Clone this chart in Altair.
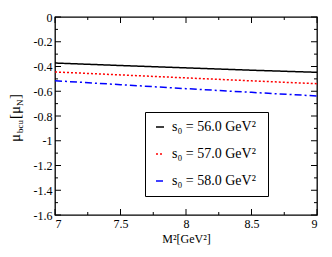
import altair as alt
import pandas as pd

# ---- data ----
m2 = [7.0, 7.5, 8.0, 8.5, 9.0]
s56 = [-0.372, -0.392, -0.411, -0.430, -0.447]
s57 = [-0.444, -0.468, -0.492, -0.516, -0.539]
s58 = [-0.515, -0.547, -0.579, -0.609, -0.638]
series_labels = ["s₀ = 56.0  GeV²", "s₀ = 57.0 GeV²", "s₀ = 58.0 GeV²"]
x_major = [7, 7.5, 8, 8.5, 9]
x_minor = [7.25, 7.75, 8.25, 8.75]
y_major = [0, -0.2, -0.4, -0.6, -0.8, -1, -1.2, -1.4, -1.6]
y_minor = [-0.1, -0.3, -0.5, -0.7, -0.9, -1.1, -1.3, -1.5]

colors = ["#000000", "#ff0000", "#0000ff"]
dashes = [[1, 0], [2, 2], [7, 3, 2, 3]]

W, H = 262, 198
FONT = "Liberation Serif"

rows = []
for lab, vals in zip(series_labels, [s56, s57, s58]):
    for x, y in zip(m2, vals):
        rows.append({"M2": x, "mu": y, "series": lab})
df = pd.DataFrame(rows)

xscale = alt.Scale(domain=[7, 9], nice=False, zero=False)
yscale = alt.Scale(domain=[-1.6, 0], nice=False, zero=False)

xaxis = alt.Axis(values=x_major, ticks=False, domain=False, grid=False,
                 labelExpr="datum.value + ''", labelFont=FONT, labelFontSize=12,
                 labelColor="black", labelPadding=3,
                 title="M²[GeV²]", titleFont=FONT, titleFontSize=12,
                 titleFontWeight="normal", titleColor="black", titlePadding=4)
yaxis = alt.Axis(values=y_major, ticks=False, domain=False, grid=False,
                 labelExpr="datum.value + ''", labelFont=FONT, labelFontSize=12,
                 labelColor="black", labelPadding=3, title=None)

lines = alt.Chart(df).mark_line(strokeWidth=1.5).encode(
    x=alt.X("M2:Q", scale=xscale, axis=xaxis),
    y=alt.Y("mu:Q", scale=yscale, axis=yaxis),
    color=alt.Color("series:N", scale=alt.Scale(domain=series_labels, range=colors),
                    legend=alt.Legend(title=None, orient="none", legendX=90, legendY=95,
                                      strokeColor="black", padding=8, fillColor="white",
                                      symbolType="stroke", symbolSize=64,
                                      symbolStrokeWidth=1.5, labelFont=FONT,
                                      labelFontSize=14, labelColor="black",
                                      labelOffset=5, rowPadding=13)),
    strokeDash=alt.StrokeDash("series:N",
                              scale=alt.Scale(domain=series_labels, range=dashes)),
)

def ticks_y(vals, L):
    d = pd.DataFrame({"mu": vals})
    left = alt.Chart(d).mark_rule(color="black", strokeWidth=1).encode(
        y=alt.Y("mu:Q", scale=yscale, axis=yaxis), x=alt.value(0), x2=alt.value(L))
    right = alt.Chart(d).mark_rule(color="black", strokeWidth=1).encode(
        y=alt.Y("mu:Q", scale=yscale, axis=yaxis), x=alt.value(W), x2=alt.value(W - L))
    return [left, right]

def ticks_x(vals, L):
    d = pd.DataFrame({"M2": vals})
    bot = alt.Chart(d).mark_rule(color="black", strokeWidth=1).encode(
        x=alt.X("M2:Q", scale=xscale, axis=xaxis), y=alt.value(H), y2=alt.value(H - L))
    top = alt.Chart(d).mark_rule(color="black", strokeWidth=1).encode(
        x=alt.X("M2:Q", scale=xscale, axis=xaxis), y=alt.value(0), y2=alt.value(L))
    return [bot, top]

tick_layers = ticks_y(y_major, 6) + ticks_y(y_minor, 3) + ticks_x(x_major, 6) + ticks_x(x_minor, 3)

dummy = pd.DataFrame({"a": [0]})
def ytitle_piece(txt, x, y, size):
    return alt.Chart(dummy).mark_text(text=txt, font=FONT, fontSize=size, angle=270,
                                      align="left", baseline="alphabetic",
                                      color="black").encode(x=alt.value(x), y=alt.value(y))

title_layers = [
    ytitle_piece("μ", -35, 125, 15),
    ytitle_piece("bcu", -32, 116, 9),
    ytitle_piece("[μ", -35, 102, 15),
    ytitle_piece("N", -32, 89, 9),
    ytitle_piece("]", -35, 82, 15),
]

chart = alt.layer(lines, *tick_layers, *title_layers).properties(
    width=W, height=H,
    autosize=alt.AutoSizeParams(type="none"),
    padding={"left": 47, "top": 9, "right": 7, "bottom": 36},
).configure_view(stroke="black", strokeWidth=1.3)

chart.save("out.html", embed_options={"renderer": "svg", "actions": False})
